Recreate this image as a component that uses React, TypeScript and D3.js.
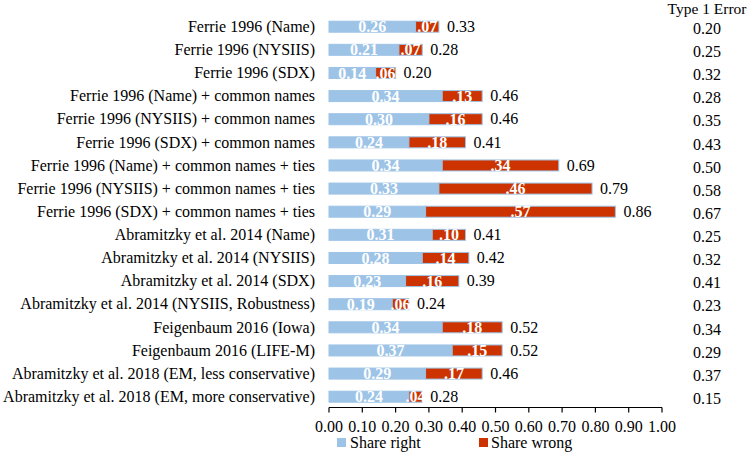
import React from "react";
import * as d3 from "d3";

const labels = [
  "Ferrie 1996 (Name)",
  "Ferrie 1996 (NYSIIS)",
  "Ferrie 1996 (SDX)",
  "Ferrie 1996 (Name) + common names",
  "Ferrie 1996 (NYSIIS) + common names",
  "Ferrie 1996 (SDX) + common names",
  "Ferrie 1996 (Name) + common names + ties",
  "Ferrie 1996 (NYSIIS) + common names + ties",
  "Ferrie 1996 (SDX) + common names + ties",
  "Abramitzky et al. 2014 (Name)",
  "Abramitzky et al. 2014 (NYSIIS)",
  "Abramitzky et al. 2014 (SDX)",
  "Abramitzky et al. 2014 (NYSIIS, Robustness)",
  "Feigenbaum 2016 (Iowa)",
  "Feigenbaum 2016 (LIFE-M)",
  "Abramitzky et al. 2018 (EM, less conservative)",
  "Abramitzky et al. 2018 (EM, more conservative)",
];
const shareRight = [0.26, 0.21, 0.14, 0.34, 0.30, 0.24, 0.34, 0.33, 0.29, 0.31, 0.28, 0.23, 0.19, 0.34, 0.37, 0.29, 0.24];
const shareWrong = [0.07, 0.07, 0.06, 0.13, 0.16, 0.18, 0.34, 0.46, 0.57, 0.10, 0.14, 0.16, 0.06, 0.18, 0.15, 0.17, 0.04];
const totals = [0.33, 0.28, 0.20, 0.46, 0.46, 0.41, 0.69, 0.79, 0.86, 0.41, 0.42, 0.39, 0.24, 0.52, 0.52, 0.46, 0.28];
const type1Error = [0.20, 0.25, 0.32, 0.28, 0.35, 0.43, 0.50, 0.58, 0.67, 0.25, 0.32, 0.41, 0.23, 0.34, 0.29, 0.37, 0.15];
const xTicks = [0, 0.1, 0.2, 0.3, 0.4, 0.5, 0.6, 0.7, 0.8, 0.9, 1.0];

const BLUE = "#9DC3E6";
const RED = "#CC3300";

export default function App() {
  const x = d3.scaleLinear().domain([0, 1]).range([329, 662]);
  const y = d3.scalePoint().domain(labels).range([26.7, 396.7]);
  const barH = 11;
  const fmt2 = d3.format(".2f");
  const fmtWrong = (v) => fmt2(v).replace(/^0/, "");
  const axisY = 407.5;

  return (
    <div style={{ position: "absolute", left: 0, top: 0, width: 750, height: 454, fontFamily: "'Liberation Serif', serif" }}>
      <svg width={750} height={454} style={{ display: "block", fontFamily: "'Liberation Serif', serif" }}>
        <style>{`text { font-family: 'Liberation Serif', 'Times New Roman', serif; }`}</style>
        <rect x={0} y={0} width={750} height={454} fill="#fff" />
        {labels.map((lab, i) => {
          const cy = y(lab);
          return (
            <g key={lab}>
              <text x={315} y={cy} dy="0.33em" textAnchor="end" fontSize={16} fill="#000">{lab}</text>
              <rect x={x(0)} y={cy - barH / 2} width={x(shareRight[i]) - x(0)} height={barH} fill={BLUE} stroke={BLUE} strokeWidth={1} />
              <rect x={x(shareRight[i])} y={cy - barH / 2} width={x(totals[i]) - x(shareRight[i])} height={barH} fill={RED} stroke={BLUE} strokeWidth={1} />
              <text x={(x(0) + x(shareRight[i])) / 2} y={cy} dy="0.35em" textAnchor="middle" fontSize={16} fontWeight="bold" fill="#fff">{fmt2(shareRight[i])}</text>
              <text x={(x(shareRight[i]) + x(totals[i])) / 2} y={cy} dy="0.35em" textAnchor="middle" fontSize={16} fontWeight="bold" fill="#fff">{fmtWrong(shareWrong[i])}</text>
              <text x={x(totals[i]) + 8} y={cy} dy="0.33em" textAnchor="start" fontSize={16} fill="#000">{fmt2(totals[i])}</text>
              <text x={707} y={cy + 2} dy="0.33em" textAnchor="middle" fontSize={16} fill="#000">{fmt2(type1Error[i])}</text>
            </g>
          );
        })}
        <text x={707} y={14} textAnchor="middle" fontSize={15.5} fill="#000">Type 1 Error</text>
        <line x1={x(0)} x2={x(1)} y1={axisY} y2={axisY} stroke="#000" strokeWidth={1.2} />
        {xTicks.map((t) => (
          <g key={t}>
            <line x1={x(t)} x2={x(t)} y1={axisY} y2={axisY + 5} stroke="#000" strokeWidth={1.2} />
            <text x={x(t)} y={432} textAnchor="middle" fontSize={16} fill="#000">{fmt2(t)}</text>
          </g>
        ))}
        <rect x={337} y={438} width={9} height={9} fill={BLUE} />
        <text x={350} y={448} fontSize={16} fill="#000">Share right</text>
        <rect x={479} y={438} width={9} height={9} fill={RED} />
        <text x={491} y={448} fontSize={16} fill="#000">Share wrong</text>
      </svg>
    </div>
  );
}
